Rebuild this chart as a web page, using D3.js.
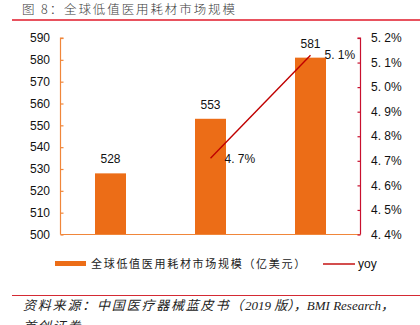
<!DOCTYPE html>
<html>
<head>
<meta charset="utf-8">
<script src="https://cdn.jsdelivr.net/npm/d3@7"></script>
<style>
  html, body { margin: 0; padding: 0; background: #fff; }
  svg { display: block; }
</style>
</head>
<body>
<svg id="chart" width="420" height="325"></svg>
<script>
// Global low-value medical consumables market size (100M USD) and growth
const years = ["2017", "2018", "2019"];
const marketSize = [528, 553, 581];
const yoyYears = ["2018", "2019"];
const yoy = [4.71, 5.13];
const leftTicks = [500, 510, 520, 530, 540, 550, 560, 570, 580, 590];
const rightTicks = [4.4, 4.5, 4.6, 4.7, 4.8, 4.9, 5.0, 5.1, 5.2];

const svg = d3.select("#chart");
const sans = "Arial, 'Liberation Sans', sans-serif";
const cjk = "'Noto Sans CJK SC', sans-serif";

const plot = { left: 60.5, right: 360.5, top: 38, bottom: 234.5 };

const x = d3.scaleBand().domain(years)
  .range([plot.left, plot.right])
  .paddingInner(0.69).paddingOuter(0.345);
const yL = d3.scaleLinear().domain([500, 590]).range([plot.bottom, plot.top]);
const yR = d3.scaleLinear().domain([4.4, 5.2]).range([plot.bottom, plot.top]);

// Title and rule
svg.append("text").attr("x", 22).attr("y", 14)
  .attr("font-family", cjk).attr("font-size", 12.5).attr("letter-spacing", 1.9)
  .attr("font-weight", 300).attr("fill", "#3a3a3a")
  .text("图 8：全球低值医用耗材市场规模");
svg.append("line").attr("x1", 12).attr("x2", 420).attr("y1", 20).attr("y2", 20)
  .attr("stroke", "#e8525e").attr("stroke-width", 2);

// Bars
svg.append("g").selectAll("rect").data(marketSize).join("rect")
  .attr("x", (d, i) => x(years[i]))
  .attr("width", x.bandwidth())
  .attr("y", d => yL(d))
  .attr("height", d => yL(500) - yL(d))
  .attr("fill", "#ec6d17");

svg.append("g").selectAll("text").data(marketSize).join("text")
  .attr("x", (d, i) => x(years[i]) + x.bandwidth() / 2)
  .attr("y", d => yL(d) - 10)
  .attr("text-anchor", "middle")
  .attr("font-family", sans).attr("font-size", 12).attr("fill", "#111")
  .text(d => d);

// Left axis
const axL = svg.append("g").attr("transform", `translate(${plot.left},0)`)
  .call(d3.axisRight(yL).tickValues(leftTicks).tickSize(3).tickFormat(""));
axL.selectAll("path,line").attr("stroke", "#f0863a").attr("stroke-width", 1.2);
axL.select(".domain").attr("d", `M3,${plot.top}H0V${plot.bottom}`);
svg.append("g").selectAll("text").data(leftTicks).join("text")
  .attr("x", 50).attr("y", d => yL(d)).attr("dy", "0.35em")
  .attr("text-anchor", "end")
  .attr("font-family", sans).attr("font-size", 12).attr("fill", "#111")
  .text(d => d);

// Bottom axis line
svg.append("line").attr("x1", plot.left).attr("x2", plot.right)
  .attr("y1", plot.bottom).attr("y2", plot.bottom)
  .attr("stroke", "#f0863a").attr("stroke-width", 1.2);

// Right axis
const axR = svg.append("g").attr("transform", `translate(${plot.right},0)`)
  .call(d3.axisLeft(yR).tickValues(rightTicks).tickSize(3).tickFormat(""));
axR.selectAll("path,line").attr("stroke", "#c8102e").attr("stroke-width", 1.2);
axR.select(".domain").attr("d", `M-3,${plot.top}H0V${plot.bottom}`);
svg.append("g").selectAll("text").data(rightTicks).join("text")
  .attr("x", 371).attr("y", d => yR(d)).attr("dy", "0.35em")
  .attr("font-family", sans).attr("font-size", 12).attr("fill", "#111")
  .text(d => d3.format(".1f")(d).replace(".", ". ") + "%");

// Growth line
const line = d3.line()
  .x((d, i) => x(yoyYears[i]) + x.bandwidth() / 2)
  .y(d => yR(d));
svg.append("path").datum(yoy).attr("d", line)
  .attr("fill", "none").attr("stroke", "#c00000").attr("stroke-width", 1.4);
svg.append("g").selectAll("text").data(yoy).join("text")
  .attr("x", (d, i) => x(yoyYears[i]) + x.bandwidth() / 2 + 14)
  .attr("y", d => yR(d)).attr("dy", "0.35em")
  .attr("font-family", sans).attr("font-size", 12).attr("fill", "#111")
  .text(d => d3.format(".1f")(d).replace(".", ". ") + "%");

// Legend
svg.append("rect").attr("x", 55).attr("y", 261).attr("width", 31).attr("height", 5)
  .attr("fill", "#ec6d17");
svg.append("text").attr("x", 91).attr("y", 264).attr("dy", "0.35em")
  .attr("font-family", cjk).attr("font-size", 11).attr("letter-spacing", 1.7)
  .attr("fill", "#222").text("全球低值医用耗材市场规模（亿美元）");
svg.append("line").attr("x1", 323).attr("x2", 355).attr("y1", 264).attr("y2", 264)
  .attr("stroke", "#c00000").attr("stroke-width", 1.4);
svg.append("text").attr("x", 358).attr("y", 264).attr("dy", "0.35em")
  .attr("font-family", sans).attr("font-size", 12).attr("fill", "#111").text("yoy");

// Source note
svg.append("line").attr("x1", 12).attr("x2", 420).attr("y1", 295.5).attr("y2", 295.5)
  .attr("stroke", "#d42a34").attr("stroke-width", 1.2);
const src = svg.append("text").attr("x", 23).attr("y", 310)
  .attr("font-style", "italic").attr("font-size", 13).attr("fill", "#222");
src.append("tspan").attr("font-family", cjk).attr("letter-spacing", 1.8)
  .text("资料来源：中国医疗器械蓝皮书（");
src.append("tspan").attr("font-family", "'Liberation Serif', serif").text("2019 ");
src.append("tspan").attr("font-family", cjk).text("版），");
src.append("tspan").attr("font-family", "'Liberation Serif', serif").text("BMI Research");
src.append("tspan").attr("font-family", cjk).text("，");
svg.append("text").attr("x", 23).attr("y", 331)
  .attr("font-style", "italic").attr("font-size", 13).attr("fill", "#222")
  .attr("font-family", cjk).attr("letter-spacing", 1.8).text("首创证券");
</script>
</body>
</html>
